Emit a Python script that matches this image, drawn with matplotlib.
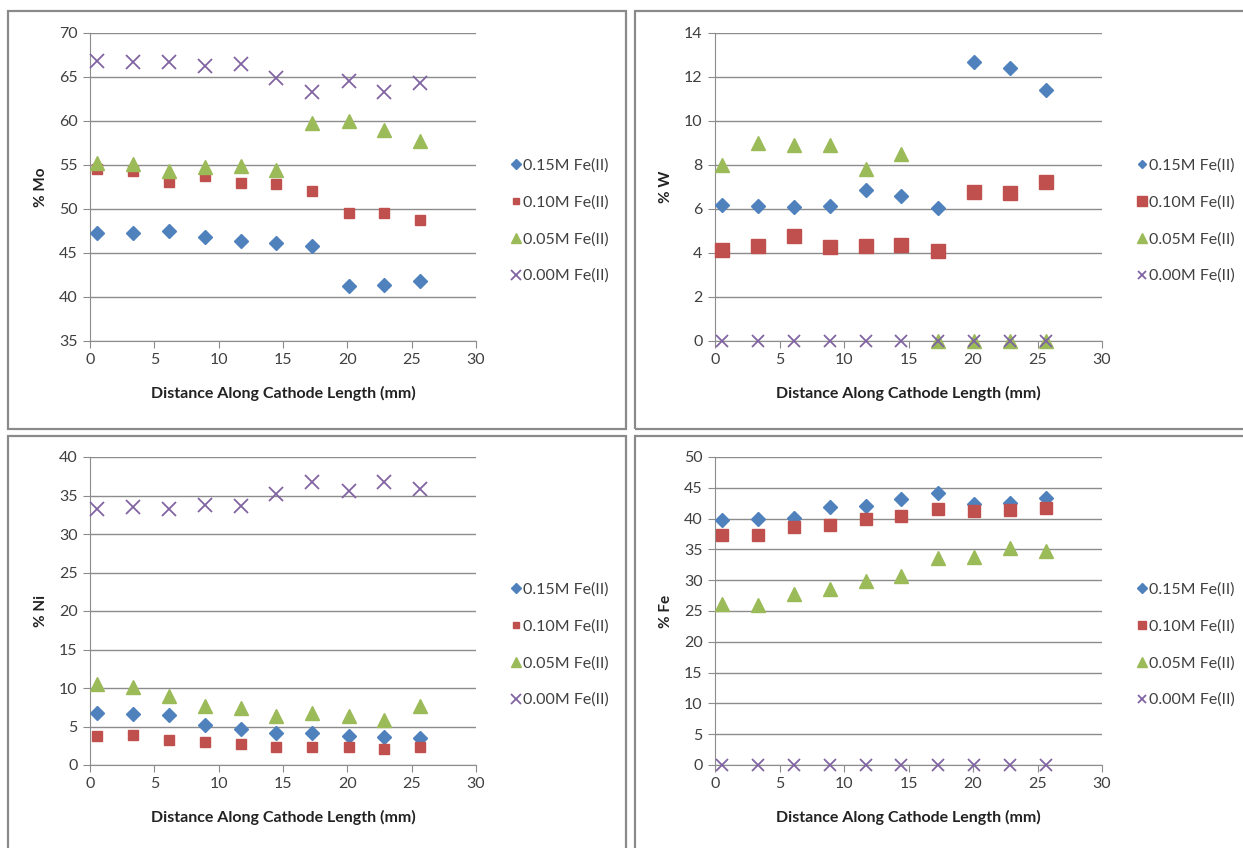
import numpy as np
import matplotlib
matplotlib.use("Agg")
import matplotlib.pyplot as plt
from matplotlib.patches import Rectangle

plt.rcParams['font.family'] = ['Lato', 'DejaVu Sans']

# distance along cathode (mm), same for every series
dist = [0.55, 3.35, 6.15, 8.9, 11.7, 14.45, 17.25, 20.1, 22.85, 25.65]

labels = ['0.15M Fe(II)', '0.10M Fe(II)', '0.05M Fe(II)', '0.00M Fe(II)']

# % Mo
mo_015 = [47.3, 47.3, 47.5, 46.8, 46.4, 46.1, 45.8, 41.3, 41.4, 41.8]
mo_010 = [54.6, 54.3, 53.1, 53.7, 52.9, 52.8, 52.0, 49.6, 49.6, 48.7]
mo_005 = [55.2, 55.1, 54.3, 54.8, 54.9, 54.4, 59.8, 60.0, 59.0, 57.7]
mo_000 = [66.8, 66.7, 66.7, 66.2, 66.5, 64.9, 63.3, 64.6, 63.3, 64.3]

# % W
w_015 = [6.2, 6.15, 6.1, 6.15, 6.88, 6.6, 6.03, 12.68, 12.41, 11.4]
w_010 = [4.12, 4.3, 4.77, 4.25, 4.32, 4.36, 4.09, 6.79, 6.71, 7.24]
w_005 = [8.0, 9.0, 8.9, 8.9, 7.8, 8.5, 0, 0, 0, 0]
w_000 = [0, 0, 0, 0, 0, 0, 0, 0, 0, 0]

# % Ni
ni_015 = [6.7, 6.6, 6.5, 5.2, 4.7, 4.1, 4.2, 3.8, 3.6, 3.5]
ni_010 = [3.8, 3.9, 3.3, 3.0, 2.7, 2.4, 2.3, 2.3, 2.1, 2.3]
ni_005 = [10.5, 10.1, 9.0, 7.7, 7.4, 6.3, 6.7, 6.4, 5.9, 7.6]
ni_000 = [33.2, 33.5, 33.3, 33.8, 33.7, 35.2, 36.8, 35.6, 36.8, 35.9]

# % Fe
fe_015 = [39.8, 39.9, 40.1, 41.9, 42.0, 43.2, 44.1, 42.4, 42.5, 43.4]
fe_010 = [37.4, 37.4, 38.6, 39.0, 40.0, 40.4, 41.6, 41.3, 41.4, 41.7]
fe_005 = [26.2, 25.9, 27.8, 28.5, 29.8, 30.7, 33.6, 33.7, 35.2, 34.7]
fe_000 = [0, 0, 0, 0, 0, 0, 0, 0, 0, 0]

colors = ['#4F81BD', '#C0504D', '#9BBB59', '#8064A2']
markers = ['D', 's', '^', 'x']

W, H = 1243, 848
fig = plt.figure(figsize=(W / 100, H / 100), dpi=100)

# panel frames
for (x0, y0, x1, y1) in [(8, 11, 626, 429), (635, 11, 1250, 429),
                         (8, 436, 626, 855), (635, 436, 1250, 855)]:
    fig.add_artist(Rectangle((x0 / W, 1 - y1 / H), (x1 - x0) / W, (y1 - y0) / H,
                             transform=fig.transFigure, fill=False,
                             edgecolor='#8a8a8a', linewidth=1.6))


def panel(px, series, ylab, ymax, ystep, sizes):
    x0, y0, x1, y1 = px
    ax = fig.add_axes([x0 / W, 1 - y1 / H, (x1 - x0) / W, (y1 - y0) / H])
    for vals, c, m, lab, s in zip(series, colors, markers, labels, sizes):
        if m == 'x':
            ax.plot(dist, vals, linestyle='none', marker=m, color=c, ms=s,
                    mew=1.3, label=lab, clip_on=False, zorder=3)
        else:
            ax.plot(dist, vals, linestyle='none', marker=m, color=c, ms=s,
                    mec=c, label=lab, clip_on=False, zorder=3)
    ymin = ymax - ystep * 7 if ymax == 70 else 0
    ax.set_xlim(0, 30)
    ax.set_ylim(ymin, ymax)
    ax.set_xticks(np.arange(0, 31, 5))
    ax.set_yticks(np.arange(ymin, ymax + 0.01, ystep))
    ax.yaxis.grid(True, color='#8c8c8c', linewidth=1.0)
    ax.set_axisbelow(True)
    for s in ['top', 'right']:
        ax.spines[s].set_visible(False)
    for s in ['left', 'bottom']:
        ax.spines[s].set_color('#8c8c8c')
    ax.tick_params(direction='out', length=5, color='#8c8c8c', labelsize=11.5,
                   labelcolor='#404040', pad=4)
    ax.tick_params(axis='x', pad=4)
    ax.set_xlabel('Distance Along Cathode Length (mm)', fontsize=11.5,
                  fontweight='bold', color='#222222', labelpad=13)
    ax.set_ylabel(ylab, fontsize=11, fontweight='bold', color='#222222', labelpad=8)
    ax.legend(loc='center left', bbox_to_anchor=(1.055, 0.39), frameon=False,
              fontsize=11.5, labelspacing=1.4, handlelength=0.5, handletextpad=0.2,
              markerscale=0.65, labelcolor='#404040')
    return ax


panel((90, 33, 476, 341), [mo_015, mo_010, mo_005, mo_000], '% Mo', 70, 5,
      [7.5, 7.5, 10, 10])
panel((715, 33, 1102, 341), [w_015, w_010, w_005, w_000], '% W', 14, 2,
      [7, 10, 10, 9])
panel((90, 457, 476, 765), [ni_015, ni_010, ni_005, ni_000], '% Ni', 40, 5,
      [7.5, 7.5, 10, 10])
panel((715, 457, 1102, 765), [fe_015, fe_010, fe_005, fe_000], '% Fe', 50, 5,
      [7.5, 8, 10, 9])

fig.savefig('out.png', dpi=100)
